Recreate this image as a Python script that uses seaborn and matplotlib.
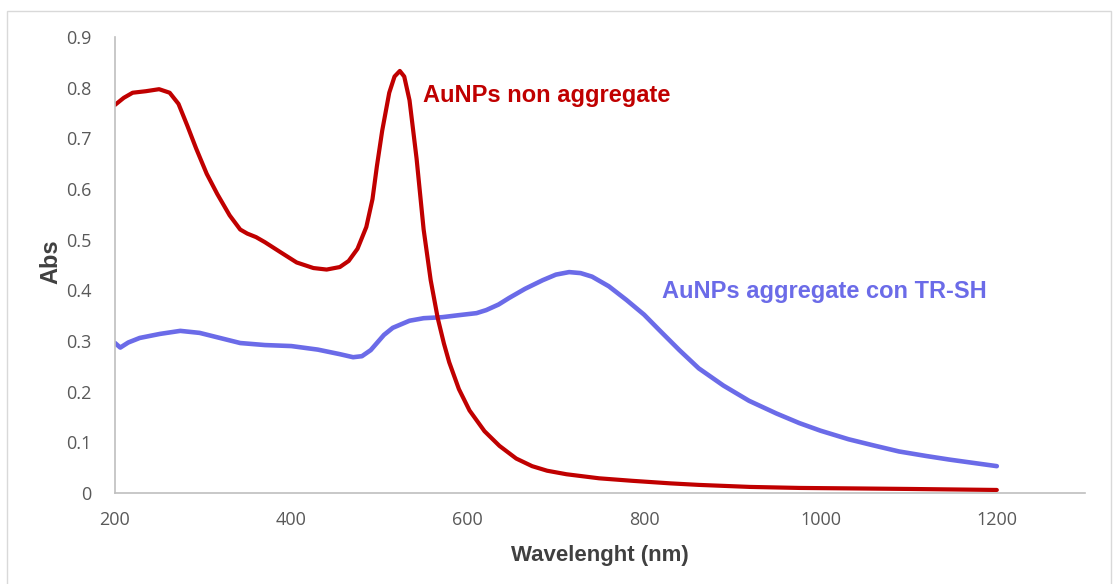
import matplotlib
matplotlib.use("Agg")
import matplotlib.pyplot as plt
import seaborn as sns
import pandas as pd
from matplotlib.patches import Rectangle

# ---- data ----
red_nm = [200, 210, 220, 235, 250, 262, 272, 282, 292, 304, 316, 330, 342, 350, 360,
          370, 387, 406, 425, 440, 455, 465, 475, 485, 492, 497, 503, 511, 517, 523,
          528, 534, 542, 550, 558, 566, 573, 579, 590, 602, 619, 636, 655, 673, 690,
          712, 749, 787, 830, 862, 920, 976, 1040, 1100, 1150, 1200]
red_abs = [0.766, 0.780, 0.790, 0.793, 0.797, 0.790, 0.768, 0.725, 0.680, 0.630, 0.590,
           0.548, 0.520, 0.512, 0.505, 0.495, 0.476, 0.455, 0.444, 0.441, 0.446, 0.458,
           0.482, 0.525, 0.580, 0.645, 0.715, 0.790, 0.822, 0.833, 0.822, 0.775, 0.660,
           0.520, 0.420, 0.345, 0.295, 0.258, 0.205, 0.163, 0.122, 0.093, 0.068, 0.053,
           0.044, 0.037, 0.029, 0.024, 0.019, 0.016, 0.012, 0.010, 0.009, 0.008, 0.007,
           0.006]

blue_nm = [200, 206, 215, 228, 251, 274, 296, 319, 342, 370, 400, 430, 455, 470, 480,
           490, 497, 505, 515, 534, 550, 571, 590, 610, 621, 635, 647, 665, 685, 700,
           715, 728, 741, 760, 780, 800, 817, 840, 862, 890, 919, 950, 976, 1000, 1032,
           1060, 1089, 1120, 1146, 1175, 1200]
blue_abs = [0.296, 0.287, 0.297, 0.306, 0.314, 0.320, 0.316, 0.306, 0.296, 0.292, 0.290,
            0.283, 0.274, 0.268, 0.270, 0.282, 0.296, 0.312, 0.326, 0.340, 0.345, 0.347,
            0.351, 0.355, 0.361, 0.372, 0.385, 0.403, 0.420, 0.431, 0.436, 0.434, 0.427,
            0.408, 0.381, 0.352, 0.322, 0.282, 0.246, 0.212, 0.182, 0.157, 0.138, 0.123,
            0.106, 0.094, 0.082, 0.073, 0.066, 0.059, 0.053]

x_ticks = [200, 400, 600, 800, 1000, 1200]
y_ticks = [0, 0.1, 0.2, 0.3, 0.4, 0.5, 0.6, 0.7, 0.8, 0.9]
y_tick_labels = ["0", "0.1", "0.2", "0.3", "0.4", "0.5", "0.6", "0.7", "0.8", "0.9"]

red_label = "AuNPs non aggregate"
blue_label = "AuNPs aggregate con TR-SH"
x_title = "Wavelenght (nm)"
y_title = "Abs"

RED = "#C00000"
BLUE = "#6B6BE8"

sns.set_style("white")
plt.rcParams["font.family"] = ["Liberation Sans", "DejaVu Sans"]

fig = plt.figure(figsize=(11.18, 5.84), dpi=100)
ax = fig.add_axes([115 / 1118, 91 / 584, 970 / 1118, 456 / 584])

df_red = pd.DataFrame({"nm": red_nm, "abs": red_abs})
df_blue = pd.DataFrame({"nm": blue_nm, "abs": blue_abs})

sns.lineplot(data=df_blue, x="nm", y="abs", ax=ax, color=BLUE, linewidth=3.3,
             sort=False, solid_capstyle="round", solid_joinstyle="round")
sns.lineplot(data=df_red, x="nm", y="abs", ax=ax, color=RED, linewidth=3.0,
             sort=False, solid_capstyle="round", solid_joinstyle="round")

ax.set_xlim(200, 1300)
ax.set_ylim(0, 0.9)
ax.set_xticks(x_ticks)
ax.set_xticklabels([str(t) for t in x_ticks])
ax.set_yticks(y_ticks)
ax.set_yticklabels(y_tick_labels)

for lab in ax.get_xticklabels() + ax.get_yticklabels():
    lab.set_fontfamily(["Open Sans", "DejaVu Sans"])
    lab.set_fontsize(13)
    lab.set_color("#595959")
ax.tick_params(axis="x", length=0, pad=13)
ax.tick_params(axis="y", length=0, pad=17)

for side in ["top", "right"]:
    ax.spines[side].set_visible(False)
for side in ["left", "bottom"]:
    ax.spines[side].set_color("#BFBFBF")
    ax.spines[side].set_linewidth(1.2)

ax.set_xlabel(x_title, fontsize=16, fontweight="bold", color="#404040")
ax.set_ylabel(y_title, fontsize=17, fontweight="bold", color="#404040")
ax.xaxis.label.set_va("center")
ax.yaxis.label.set_va("center")
ax.xaxis.set_label_coords(0.5, (493 - 556) / 456)
ax.yaxis.set_label_coords((51 - 115) / 970, (493 - 262) / 456)

ax.text(549, 0.772, red_label, color=RED, fontsize=17, fontweight="bold",
        ha="left", va="baseline")
ax.text(820, 0.384, blue_label, color=BLUE, fontsize=17, fontweight="bold",
        ha="left", va="baseline")

# chart-area border
fig.patches.append(Rectangle((7 / 1118, -0.01), (1111 - 7) / 1118, (584 - 11) / 584 + 0.01,
                             transform=fig.transFigure, fill=False,
                             edgecolor="#D9D9D9", linewidth=1.0))

fig.savefig("out.png", dpi=100, facecolor="white")
